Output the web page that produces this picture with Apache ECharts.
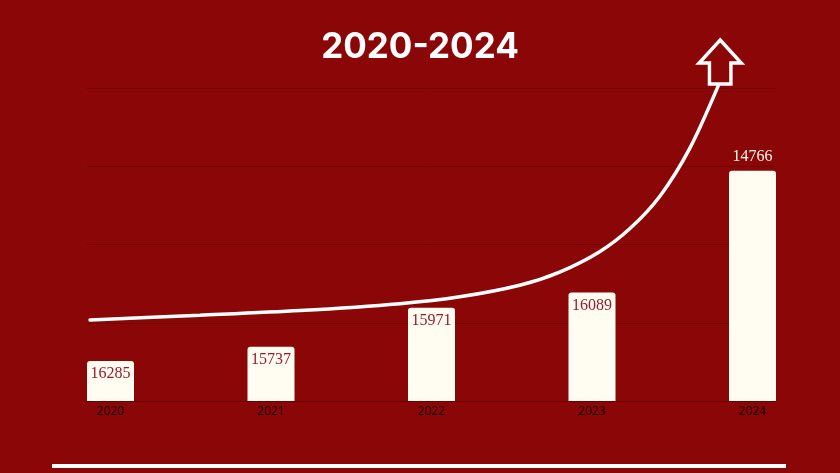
<!DOCTYPE html>
<html>
<head>
<meta charset="utf-8">
<script src="https://cdn.jsdelivr.net/npm/echarts@6/dist/echarts.min.js"></script>
<style>
html,body{margin:0;padding:0;background:#8B0606;}
#c{width:840px;height:473px;}
</style>
</head>
<body>
<div id="c"></div>
<script>
// ---- data ----
const titleText = '2020-2024';
const years = ['2020', '2021', '2022', '2023', '2024'];
const barHeights = [12.8, 17.3, 29.8, 34.7, 73.6];      // bar heights on 0-100 scale
const barLabels = ['16285', '15737', '15971', '16089', '14766'];
const trendX = [0.44, 16.4, 30.9, 45.4, 54.1, 62.8, 68.6, 74.4, 78.8, 83.2, 87.5, 91.6];
const trendY = [25.9, 27.4, 28.9, 31.1, 33.3, 37.0, 41.2, 47.7, 55.1, 65.6, 80.8, 100.6];
const arrowPoint = [91.9, 108.3];

const BG = '#8B0606';
const chart = echarts.init(document.getElementById('c'));

const barData = barHeights.map((v, i) => ({
  value: v,
  label: i === barHeights.length - 1
    ? { position: 'top', color: '#FFF8EA', distance: 6 }
    : { position: 'insideTop', color: '#9A1A2E', distance: 5 }
}));

const curveData = trendX.map((x, i) => [x, trendY[i]]);

chart.setOption({
  backgroundColor: BG,
  animation: false,
  title: {
    text: titleText,
    left: 'center',
    top: 25,
    textStyle: { color: '#FFFFFF', fontSize: 35, fontWeight: 'bold', fontFamily: 'Inter' }
  },
  grid: [
    { left: 110.5, right: 87.5, top: 88, bottom: 72 },
    { left: 87, right: 64, top: 88, bottom: 72 }
  ],
  xAxis: [
    {
      gridIndex: 0, type: 'category', data: years, boundaryGap: false,
      axisLine: { show: false }, axisTick: { show: false },
      axisLabel: { color: '#1E0000', fontSize: 12, fontFamily: 'Noto Sans', margin: 5 }
    },
    {
      gridIndex: 1, type: 'value', min: 0, max: 100,
      axisLine: { show: true, lineStyle: { color: '#650202', width: 1 } },
      axisTick: { show: false }, axisLabel: { show: false }, splitLine: { show: false }
    }
  ],
  yAxis: [
    {
      gridIndex: 0, type: 'value', min: 0, max: 100,
      axisLine: { show: false }, axisTick: { show: false }, axisLabel: { show: false }, splitLine: { show: false }
    },
    {
      gridIndex: 1, type: 'value', min: 0, max: 100, interval: 25,
      axisLine: { show: false }, axisTick: { show: false }, axisLabel: { show: false },
      splitLine: { show: true, lineStyle: { color: '#720404', width: 1 } }
    }
  ],
  series: [
    {
      type: 'bar', xAxisIndex: 0, yAxisIndex: 0, clip: false,
      barWidth: 47,
      data: barData,
      itemStyle: { color: '#FFFDF1', borderRadius: [3, 3, 0, 0] },
      label: {
        show: true,
        formatter: p => barLabels[p.dataIndex],
        fontFamily: 'Liberation Serif', fontSize: 16
      },
      z: 3
    },
    {
      type: 'line', xAxisIndex: 1, yAxisIndex: 1, clip: false,
      data: curveData, smooth: 0.3, showSymbol: false, symbol: 'none',
      lineStyle: { color: '#FFFFFF', width: 3.5, cap: 'round' },
      z: 4
    },
    {
      type: 'scatter', xAxisIndex: 1, yAxisIndex: 1, clip: false,
      data: [arrowPoint],
      symbol: 'path://M22.5,0 L45,24 L34,24 L34,46 L11,46 L11,24 L0,24 Z',
      symbolSize: [42, 44],
      itemStyle: { color: BG, borderColor: '#FFFFFF', borderWidth: 3.5, opacity: 1 },
      z: 5
    }
  ],
  graphic: [
    { type: 'rect', shape: { x: 52, y: 464, width: 734, height: 4 }, style: { fill: '#FFFFFF' } }
  ]
});
</script>
</body>
</html>
